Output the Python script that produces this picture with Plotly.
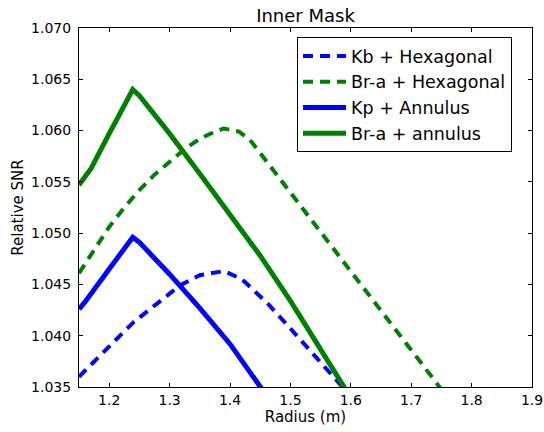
import plotly.graph_objects as go

# Radius (m) and relative SNR
kb_hex_x = [1.15, 1.20, 1.24, 1.30, 1.317, 1.35, 1.39, 1.42, 1.463, 1.50, 1.533, 1.55, 1.60]
kb_hex_y = [1.0360, 1.0389, 1.0413, 1.0441, 1.0449, 1.0459, 1.0463, 1.0455, 1.0431, 1.0407, 1.0386, 1.0374, 1.0341]

bra_hex_x = [1.15, 1.175, 1.20, 1.225, 1.25, 1.275, 1.30, 1.325, 1.35, 1.375, 1.39, 1.40,
             1.415, 1.433, 1.45, 1.50, 1.55, 1.60, 1.65, 1.70, 1.76]
bra_hex_y = [1.0461, 1.0484, 1.0506, 1.0525, 1.0542, 1.0557, 1.0570, 1.0582, 1.0592, 1.0599,
             1.0602, 1.0601, 1.0599, 1.0591, 1.0578, 1.0539, 1.0501, 1.0463, 1.0425, 1.0386, 1.0340]

kp_ann_x = [1.15, 1.16, 1.20, 1.239, 1.25, 1.30, 1.35, 1.40, 1.46]
kp_ann_y = [1.0426, 1.0433, 1.0465, 1.0496, 1.0491, 1.0460, 1.0427, 1.0392, 1.0342]

bra_ann_x = [1.15, 1.16, 1.17, 1.20, 1.239, 1.25, 1.30, 1.35, 1.40, 1.45, 1.50, 1.55, 1.61]
bra_ann_y = [1.0547, 1.0555, 1.0563, 1.0597, 1.0640, 1.0634, 1.0597, 1.0558, 1.0519, 1.0478,
             1.0434, 1.0387, 1.0330]

x_ticks = [1.2, 1.3, 1.4, 1.5, 1.6, 1.7, 1.8, 1.9]
y_ticks = [1.035, 1.040, 1.045, 1.050, 1.055, 1.060, 1.065, 1.070]

BLUE = "#0000ff"
GREEN = "#008000"
FONT = "DejaVu Sans"

fig = go.Figure()
fig.add_trace(go.Scatter(x=kb_hex_x, y=kb_hex_y, mode="lines", name="Kb + Hexagonal",
                         line=dict(color=BLUE, width=4, dash="10px,7px")))
fig.add_trace(go.Scatter(x=bra_hex_x, y=bra_hex_y, mode="lines", name="Br-a + Hexagonal",
                         line=dict(color=GREEN, width=4, dash="10px,7px")))
fig.add_trace(go.Scatter(x=kp_ann_x, y=kp_ann_y, mode="lines", name="Kp + Annulus",
                         line=dict(color=BLUE, width=5)))
fig.add_trace(go.Scatter(x=bra_ann_x, y=bra_ann_y, mode="lines", name="Br-a + annulus",
                         line=dict(color=GREEN, width=5)))

axis_common = dict(showline=True, linecolor="black", linewidth=1, mirror="allticks",
                   ticks="inside", ticklen=4, tickwidth=1, tickcolor="black",
                   showgrid=False, zeroline=False, automargin=False,
                   tickfont=dict(family=FONT, size=14, color="black"))

fig.update_xaxes(range=[1.15, 1.9], tickvals=x_ticks, ticktext=[f"{v:.1f}" for v in x_ticks],
                 title=dict(text="Radius (m)", font=dict(family=FONT, size=15, color="black"), standoff=3),
                 ticklabelstandoff=0, **axis_common)
fig.update_yaxes(range=[1.035, 1.070], tickvals=y_ticks, ticktext=[f"{v:.3f}" for v in y_ticks],
                 title=dict(text="Relative SNR", font=dict(family=FONT, size=15, color="black"), standoff=3),
                 ticklabelstandoff=4, **axis_common)

fig.update_layout(
    width=544, height=432,
    margin=dict(l=79, r=12, t=28, b=45, pad=0),
    paper_bgcolor="white", plot_bgcolor="white",
    font=dict(family=FONT, size=14, color="black"),
    title=dict(text="Inner Mask", x=0.5, xref="paper", xanchor="center",
               y=1 - 16 / 432, yref="container", yanchor="middle",
               font=dict(family=FONT, size=18, color="black")),
    legend=dict(x=(297 - 79) / 453, y=1 - (37 - 28) / 359, xanchor="left", yanchor="top",
                bgcolor="white", bordercolor="black", borderwidth=1, itemwidth=43,
                font=dict(family=FONT, size=17.5, color="black")),
    showlegend=True,
)

fig.write_html("out.html")
